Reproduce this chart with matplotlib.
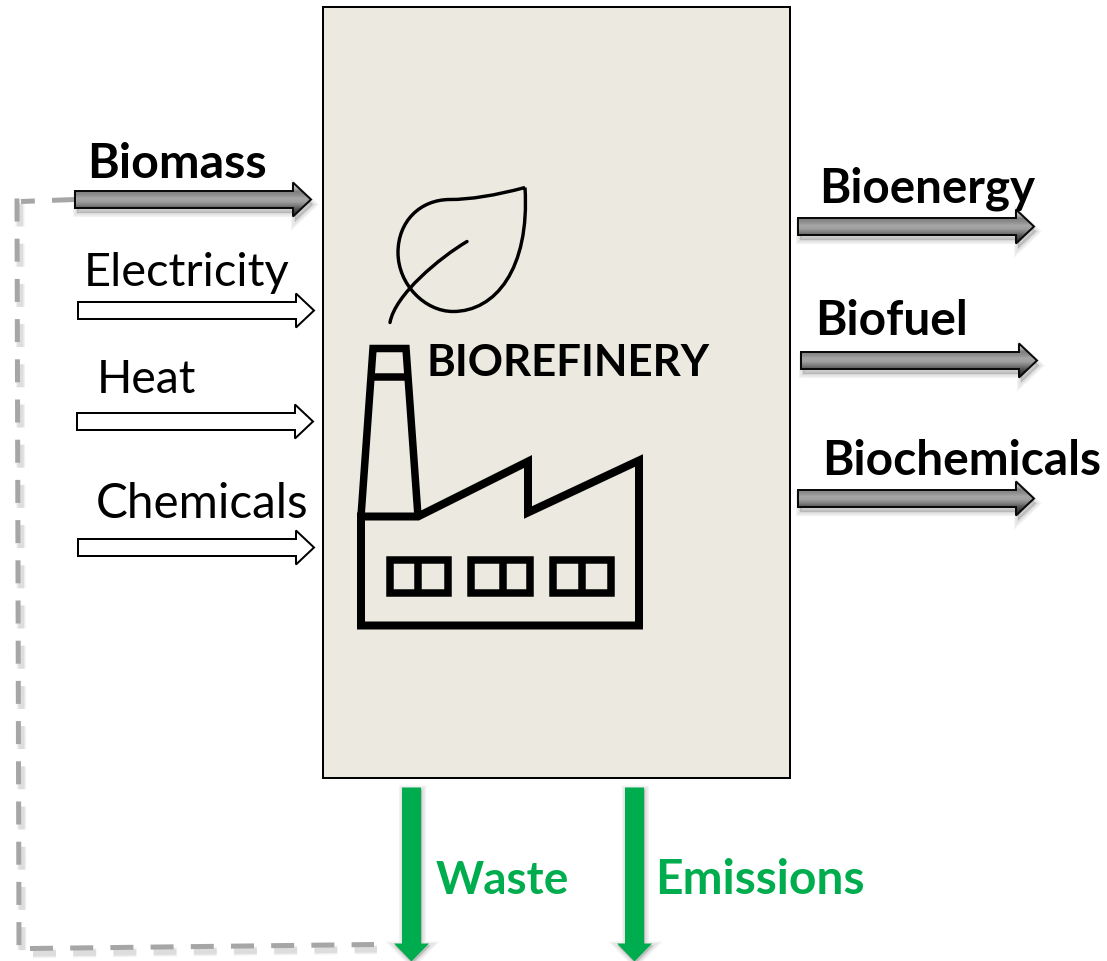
"""Biorefinery flow diagram, drawn in pixel coordinates of the 1107x962 picture."""
import matplotlib
matplotlib.use("Agg")
import matplotlib.pyplot as plt
import matplotlib.patches as mpatches
from matplotlib.path import Path
import numpy as np

W, H = 1107, 962
PX = 0.72  # one pixel in points at dpi 100
Y_SHIFT = 1.5

plt.rcParams["font.family"] = ["Lato", "DejaVu Sans"]

BLACK = "#000000"
GREEN = "#00AD4E"
BOX_FILL = "#ECEAE0"
DASH_GREY = "#A6A6A6"

# labels: text, left x, baseline y, font size
bold_labels = [("Biomass", 87, 176, 34.8), ("Bioenergy", 819, 201, 34.2),
               ("Biofuel", 815, 334, 34.5), ("Biochemicals", 822, 474, 34.5),
               ("BIOREFINERY", 427, 375, 31.5)]
plain_labels = [("Electricity", 84, 285, 33.8), ("Heat", 97, 392, 33.4), ("Chemicals", 96, 517, 34.3)]
green_labels = [("Waste", 436, 893, 33.0), ("Emissions", 655, 893, 34.6)]

# arrows: left x, right x, centre y
grey_arrows = [(75, 311, 199), (798, 1034, 226), (801, 1037, 360), (798, 1034, 498)]
white_arrows = [(78, 314, 310), (77, 313, 421), (78, 314, 547)]
# green arrows: centre x
green_arrows = [411.5, 634.5]

# factory icon outlines
building = [(361, 625), (361, 516), (418, 516), (528, 461), (528, 512), (639, 460), (639, 625)]
chimney = [(361, 516), (373, 348), (406, 348), (418, 516)]
chimney_bar = [(371, 376), (408, 376)]
windows = [(389.5, 418, 447.5), (470.5, 503, 529.5), (552.5, 582, 610.5)]
window_top, window_bot = 559.5, 592.5

# leaf, bezier control points
leaf = [(525, 187), (495, 195), (470, 199), (450, 199), (420, 199), (398, 221), (398, 252),
        (398, 284), (425, 311), (453, 311), (495, 311), (530, 269), (525, 187)]
stem = [(467, 241), (440, 257), (395, 294), (390, 322)]

# dashed return line, one piece per side
return_line = [[(75, 199), (21, 201)], [(17, 198), (19, 946)], [(30, 948), (374, 944)]]


def arrow_outline(x0, x1, y, half_shaft=8.5, half_head=17, head_len=18):
    return [(x0, y - half_shaft), (x1 - head_len, y - half_shaft), (x1 - head_len, y - half_head),
            (x1, y), (x1 - head_len, y + half_head), (x1 - head_len, y + half_shaft),
            (x0, y + half_shaft), (x0, y - half_shaft)]


def soft_shadow(ax, pts, dx=2, dy=5, zorder=2):
    # rough blur: stacked wide transparent strokes
    poly = np.array(pts, dtype=float) + [dx, dy]
    for lw in (8, 5, 2):
        ax.add_patch(mpatches.Polygon(poly, closed=True, facecolor="#000000", edgecolor="#000000",
                                      alpha=0.05, linewidth=lw * PX, zorder=zorder))


fig = plt.figure(figsize=(W / 100, H / 100), dpi=100)
ax = fig.add_axes([0, 0, 1, 1])
ax.axis("off")

ax.add_patch(mpatches.Rectangle((323, 6), 467, 771, facecolor=BOX_FILL, edgecolor=BLACK,
                                linewidth=2 * PX, zorder=1))

# grey arrows with vertical gradient
gradient = np.array([0.75, 0.70, 0.50, 0.55, 0.65, 0.62, 0.50, 0.35, 0.24, 0.15]).reshape(-1, 1)
for x0, x1, y in grey_arrows:
    pts = arrow_outline(x0, x1, y)
    soft_shadow(ax, pts)
    im = ax.imshow(gradient, cmap="gray", vmin=0, vmax=1, aspect="auto",
                   extent=[x0, x1, y + 17, y - 17], zorder=3, interpolation="bilinear")
    outline = mpatches.Polygon(pts, closed=True, facecolor="none", edgecolor="#0a0a0a",
                               linewidth=2 * PX, zorder=4)
    ax.add_patch(outline)
    im.set_clip_path(outline)

for x0, x1, y in white_arrows:
    ax.add_patch(mpatches.Polygon(arrow_outline(x0, x1, y), closed=True, facecolor="white",
                                  edgecolor=BLACK, linewidth=2 * PX, zorder=3))

# green arrows
for cx in green_arrows:
    pts = [(cx - 9.5, 787), (cx + 9.5, 787), (cx + 9.5, 943), (cx + 17.5, 943), (cx, 961),
           (cx - 17.5, 943), (cx - 9.5, 943)]
    soft_shadow(ax, pts, dx=1, dy=2)
    ax.add_patch(mpatches.Polygon(pts, closed=True, facecolor=GREEN, edgecolor="none", zorder=3))

# dashed return line
dash_lw = 5 * PX
dash_on, dash_off = 23 * PX / dash_lw, 17.2 * PX / dash_lw
for i, seg in enumerate(return_line):
    xs, ys = zip(*seg)
    if i > 0:
        for lw, a in ((9, 0.06), (6, 0.08)):
            ax.plot(np.array(xs) + 3, np.array(ys) + 5, color="#000000", alpha=a, linewidth=lw * PX,
                    dashes=(dash_on * dash_lw / (lw * PX), dash_off * dash_lw / (lw * PX)),
                    dash_capstyle="butt", zorder=2)
    ax.plot(xs, ys, color=DASH_GREY, linewidth=dash_lw, dashes=(dash_on, dash_off),
            dash_capstyle="butt", zorder=2.5)

# factory
icon_kw = dict(color=BLACK, solid_joinstyle="miter", solid_capstyle="butt", zorder=3)
ax.add_patch(mpatches.Polygon(building, closed=True, facecolor="none", edgecolor=BLACK,
                              linewidth=8 * PX, joinstyle="miter", zorder=3))
cx_, cy_ = zip(*chimney)
ax.plot(cx_, cy_, linewidth=7.5 * PX, **icon_kw)
bar_x, bar_y = zip(*chimney_bar)
ax.plot(bar_x, bar_y, linewidth=7.5 * PX, **icon_kw)
for left, mid, right in windows:
    ax.add_patch(mpatches.Rectangle((left, window_top), right - left, window_bot - window_top,
                                    facecolor="none", edgecolor=BLACK, linewidth=7.5 * PX,
                                    joinstyle="miter", zorder=3))
    ax.plot([mid, mid], [window_top, window_bot], linewidth=7.5 * PX, **icon_kw)

# leaf
leaf_codes = [Path.MOVETO] + [Path.CURVE4] * (len(leaf) - 1)
ax.add_patch(mpatches.PathPatch(Path(leaf, leaf_codes), facecolor="none", edgecolor=BLACK,
                                linewidth=3.4 * PX, joinstyle="miter", zorder=3))
stem_codes = [Path.MOVETO] + [Path.CURVE4] * 3
ax.add_patch(mpatches.PathPatch(Path(stem, stem_codes), facecolor="none", edgecolor=BLACK,
                                linewidth=3.4 * PX, capstyle="round", zorder=3))

# text
for label, x, y, size in bold_labels:
    ax.text(x, y, label, fontsize=size, fontweight="bold", color=BLACK, va="baseline", zorder=6)
for label, x, y, size in plain_labels:
    ax.text(x, y, label, fontsize=size, color=BLACK, va="baseline", zorder=6)
for label, x, y, size in green_labels:
    ax.text(x, y, label, fontsize=size, fontweight="bold", color=GREEN, va="baseline", zorder=6)

# imshow resets the limits, so set them last
ax.set_xlim(0, W)
ax.set_ylim(H - Y_SHIFT, -Y_SHIFT)

fig.savefig("out.png", dpi=100, facecolor="white")
plt.close(fig)
